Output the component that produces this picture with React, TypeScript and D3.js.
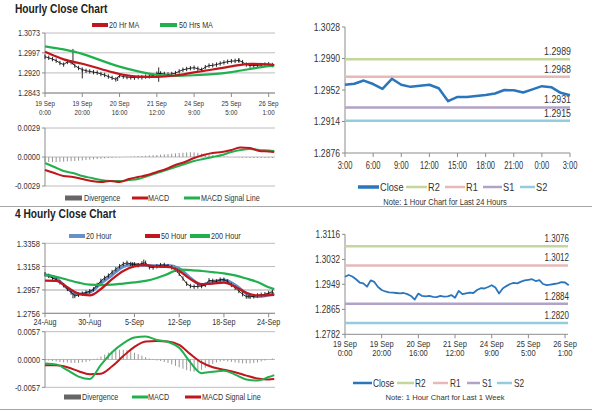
import * as d3 from 'd3';

const SANS = '"Liberation Sans", Arial, sans-serif';
const TEXT = '#333';
const AXIS = '#8c8c8c';
const GRID = '#bcbcbc';
const RED = '#c0161d';
const GREEN = '#22b04e';
const BLUE20 = '#6690c6';
const CLOSE_BLUE = '#2a76bc';
const BAR = '#8a8a8a';
const LEVEL_COLORS = ['#c3d69b', '#e6b9b8', '#b3a2c7', '#93cddd'];

// ---------- Hourly close chart (19 Sep - 26 Sep, every 2 hours) ----------
const hourlyClose = [
  1.2982, 1.2978, 1.2973, 1.2967, 1.2958, 1.2952, 1.2962, 1.2961, 1.2948, 1.2939,
  1.2933, 1.2928, 1.2926, 1.2923, 1.2921, 1.2916, 1.2912, 1.2906, 1.2901, 1.2895,
  1.2910, 1.2906, 1.2904, 1.2903, 1.2902, 1.2904, 1.2903, 1.2906, 1.2907, 1.2910,
  1.2917, 1.2918, 1.2916, 1.2914, 1.2916, 1.2919, 1.2926, 1.2932, 1.2935, 1.2938,
  1.2940, 1.2936, 1.2932, 1.2942, 1.2948, 1.2949, 1.2952, 1.2956, 1.2960, 1.2963,
  1.2965, 1.2966, 1.2968, 1.2961, 1.2952, 1.2948, 1.2948, 1.2949, 1.2950, 1.2952,
  1.2953, 1.2950,
];
// [hour, high, low]
const hourlySpikes = [
  [15, 1.3012, 1.2952], [20, 1.2932, 1.2899], [39, 1.2905, 1.2889], [61, 1.2941, 1.2886], [104, 1.2975, 1.2960],
];
const hourlyMaHours = [0, 10, 20, 30, 40, 50, 60, 70, 80, 90, 100, 110, 120, 123];
const hourlyMa20 = [1.3001, 1.2972, 1.2955, 1.2935, 1.2916, 1.2906, 1.2905, 1.2910, 1.2922, 1.2933, 1.2945, 1.2955, 1.2953, 1.2950];
const hourlyMa50 = [1.3022, 1.3010, 1.2993, 1.2968, 1.2944, 1.2926, 1.2913, 1.2909, 1.2911, 1.2915, 1.2923, 1.2935, 1.2946, 1.2948];
const hourlyYTicks = [1.2843, 1.2920, 1.2997, 1.3073];
const hourlyXTicks = [0, 20, 40, 60, 80, 100, 120];
const hourlyXLabels = [
  ['19 Sep', '0:00'], ['19 Sep', '20:00'], ['20 Sep', '16:00'], ['21 Sep', '12:00'],
  ['24 Sep', '9:00'], ['25 Sep', '5:00'], ['26 Sep', '1:00'],
];
const hourlyMacdHours = [0, 5, 10, 15, 20, 25, 30, 35, 40, 45, 50, 55, 60, 65, 70, 75, 80, 85, 90, 95, 100, 105, 110, 115, 120, 123];
const hourlyMacd = [-0.0013, -0.0016, -0.0019, -0.0020, -0.0022, -0.0024, -0.0025, -0.0024, -0.0025, -0.0022, -0.0020, -0.0018, -0.0015, -0.0012, -0.0008, -0.0005, -0.0001, 0.0002, 0.0004, 0.0005, 0.0007, 0.00095, 0.0009, 0.0006, 0.00055, 0.0005];
const hourlySignal = [-0.0006, -0.0010, -0.0014, -0.0016, -0.0019, -0.0021, -0.0023, -0.0024, -0.0024, -0.0023, -0.0022, -0.0019, -0.0016, -0.0013, -0.0010, -0.0007, -0.0004, -0.0002, 0.0000, 0.0002, 0.0005, 0.0007, 0.0008, 0.0007, 0.00065, 0.0006];
const hourlyDivergence = [
  -0.0005, -0.0005, -0.00052, -0.0005, -0.00048, -0.00046, -0.00044, -0.00042, -0.0004, -0.00037,
  -0.00034, -0.0003, -0.00027, -0.00024, -0.0002, -0.00017, -0.00014, -0.0001, -0.00008, -0.00005,
  -0.00003, -0.00002, 0.00002, 0.00004, 0.00006, 0.00008, 0.0001, 0.00012, 0.00015, 0.00018,
  0.0002, 0.00024, 0.00027, 0.0003, 0.00033, 0.00036, 0.0004, 0.00043, 0.00046, 0.00048,
  0.00047, 0.00042, 0.00035, 0.0003, 0.00025, 0.0002, 0.00015, 0.0001, 0.00006, 0.00003,
  0, -0.00003, -0.00005, -0.00007, -0.00008, -0.00009, -0.0001, -0.0001, -0.0001, -0.0001,
  -0.0001, -0.0001,
];
const hourlyMacdTicks = [-0.0029, 0, 0.0029];

// ---------- Last 24 hours ----------
const dayClose = [
  1.29583, 1.29596, 1.29634, 1.29592, 1.29533, 1.29655, 1.29583, 1.29558, 1.29571, 1.29583,
  1.29541, 1.29385, 1.29436, 1.29436, 1.29448, 1.29461, 1.29478, 1.2952, 1.29516, 1.2949,
  1.29528, 1.29566, 1.29554, 1.29486, 1.29457,
];
const levelNames = ['R2', 'R1', 'S1', 'S2'];
const dayLevels = [1.2989, 1.2968, 1.2931, 1.2915];
const dayYTicks = [1.2876, 1.2914, 1.2952, 1.2990, 1.3028];
const dayXTicks = [0, 3, 6, 9, 12, 15, 18, 21, 24];
const dayXLabels = ['3:00', '6:00', '9:00', '12:00', '15:00', '18:00', '21:00', '0:00', '3:00'];

// ---------- 4 hourly close chart (24 Aug - 24 Sep, every 2 bars) ----------
const fourClose = [
  1.3092, 1.3078, 1.3060, 1.3045, 1.3022, 1.2998, 1.2965, 1.2935, 1.2905, 1.2915,
  1.2925, 1.2935, 1.2945, 1.2962, 1.3000, 1.3035, 1.3060, 1.3080, 1.3110, 1.3135,
  1.3160, 1.3180, 1.3190, 1.3180, 1.3176, 1.3170, 1.3185, 1.3190, 1.3152, 1.3150,
  1.3160, 1.3170, 1.3172, 1.3162, 1.3150, 1.3130, 1.3095, 1.3055, 1.3010, 1.2990,
  1.2985, 1.2988, 1.2990, 1.3000, 1.3040, 1.3035, 1.3030, 1.3045, 1.3045, 1.3030,
  1.3000, 1.2975, 1.2948, 1.2920, 1.2900, 1.2897, 1.2902, 1.2910, 1.2915, 1.2920,
  1.2930, 1.2943,
];
const fourSpikes = [
  [15, 1.2930, 1.2885], [47, 1.3195, 1.3160], [53, 1.3218, 1.3172], [71, 1.3140, 1.3105], [109, 1.2915, 1.2883],
];
const fourMaIdx = [0, 6, 12, 18, 24, 30, 36, 42, 48, 54, 60, 66, 72, 78, 84, 90, 96, 102, 108, 114, 120, 123];
const fourMa20 = [1.3088, 1.3058, 1.2971, 1.2920, 1.2937, 1.3014, 1.3086, 1.3158, 1.3178, 1.3167, 1.3164, 1.3167, 1.3140, 1.3060, 1.3000, 1.3029, 1.3043, 1.3000, 1.2928, 1.2900, 1.2914, 1.2928];
const fourMa50 = [1.3037, 1.3035, 1.2980, 1.2925, 1.2910, 1.2965, 1.3050, 1.3120, 1.3160, 1.3170, 1.3157, 1.3155, 1.3120, 1.3050, 1.3008, 1.3012, 1.3020, 1.2985, 1.2932, 1.2910, 1.2912, 1.2915];
const fourMa200 = [1.3086, 1.3070, 1.3045, 1.3020, 1.3002, 1.2998, 1.3002, 1.3012, 1.3022, 1.3035, 1.3060, 1.3095, 1.3132, 1.3128, 1.3120, 1.3110, 1.3100, 1.3082, 1.3055, 1.3025, 1.2980, 1.2965];
const fourYTicks = [1.2756, 1.2957, 1.3158, 1.3358];
const fourXTicks = [0, 24, 48, 72, 96, 120];
const fourXLabels = ['24-Aug', '30-Aug', '5-Sep', '12-Sep', '18-Sep', '24-Sep'];
const fourMacd = [-0.0008, -0.0010, -0.0022, -0.0035, -0.0040, -0.0011, 0.0015, 0.0033, 0.0045, 0.0047, 0.0040, 0.0036, 0.0024, -0.0006, -0.0028, -0.0025, -0.0023, -0.0031, -0.0041, -0.0043, -0.0036, -0.0032];
const fourSignal = [-0.0012, -0.0012, -0.0016, -0.0024, -0.0030, -0.0029, -0.0014, 0.0007, 0.0026, 0.0037, 0.0038, 0.0037, 0.0030, 0.0011, -0.0006, -0.0016, -0.0021, -0.0026, -0.0033, -0.0039, -0.0041, -0.0040];
const fourDivergence = [
  -0.0002, -0.0002, -0.0003, -0.0004, -0.0005, -0.0006, -0.0006, -0.0007, -0.0007, -0.0007,
  -0.0006, -0.0005, -0.0003, -0.0001, 0.0002, 0.0006, 0.0010, 0.0014, 0.0017, 0.0019,
  0.0020, 0.0020, 0.0019, 0.0017, 0.0014, 0.0011, 0.0008, 0.0005, 0.0002, -0.0001,
  -0.0002, -0.0003, -0.0005, -0.0007, -0.0010, -0.0013, -0.0016, -0.0019, -0.0022, -0.0024,
  -0.0025, -0.0024, -0.0021, -0.0017, -0.0013, -0.0009, -0.0006, -0.0004, -0.0003, -0.0004,
  -0.0005, -0.0006, -0.0007, -0.0008, -0.0008, -0.0008, -0.0007, -0.0006, -0.0004, -0.0002,
  0.0000, 0.0002,
];
const fourMacdTicks = [-0.0057, 0, 0.0057];

// ---------- Last 1 week, hourly (every 2 hours) ----------
const weekClose = [
  1.2974, 1.2980, 1.2975, 1.2966, 1.2955, 1.2952, 1.2941, 1.2962, 1.2957, 1.2940,
  1.2930, 1.2925, 1.2922, 1.2921, 1.2920, 1.2919, 1.2920, 1.2916, 1.2910, 1.2898,
  1.2918, 1.2910, 1.2909, 1.2910, 1.2907, 1.2906, 1.2910, 1.2908, 1.2909, 1.2913,
  1.2904, 1.2927, 1.2916, 1.2919, 1.2921, 1.2920, 1.2930, 1.2936, 1.2935, 1.2940,
  1.2946, 1.2938, 1.2918, 1.2935, 1.2943, 1.2950, 1.2954, 1.2952, 1.2958, 1.2962,
  1.2964, 1.2966, 1.2960, 1.2963, 1.2950, 1.2946, 1.2948, 1.2950, 1.2952, 1.2956,
  1.2955, 1.2946,
];
const weekLevels = [1.3076, 1.3012, 1.2884, 1.2820];
const weekYTicks = [1.2782, 1.2865, 1.2949, 1.3032, 1.3116];

type Lin = d3.ScaleLinear<number, number>;

const linePath = (xs: number[], ys: number[], x: Lin, y: Lin, curve: d3.CurveFactory = d3.curveLinear) =>
  d3.line<number>().x((_, i) => x(xs[i])).y(d => y(d)).curve(curve)(ys) || '';

// condensed text: the source chart uses a narrow face, so squeeze horizontally
function T({ x, y, size, sx = 0.8, anchor = 'start', bold, mid, fill = TEXT, children }: {
  x: number; y: number; size: number; sx?: number; anchor?: 'start' | 'middle' | 'end';
  bold?: boolean; mid?: boolean; fill?: string; children: React.ReactNode;
}) {
  return (
    <text transform={`translate(${x},${y}) scale(${sx},1)`} textAnchor={anchor} fontSize={size}
      fontWeight={bold ? 'bold' : 'normal'} dy={mid ? '0.35em' : undefined} fill={fill}>{children}</text>
  );
}

function YAxis({ y, ticks, x, size, sx, grid, gridStyle }: {
  y: Lin; ticks: number[]; x: number; size: number; sx: number; grid?: [number, number];
  gridStyle?: (t: number) => { stroke: string; width: number };
}) {
  const lo = d3.min(ticks)!, hi = d3.max(ticks)!;
  return (
    <g>
      {grid && ticks.map(t => {
        const s = gridStyle ? gridStyle(t) : { stroke: GRID, width: 1 };
        return <line key={'g' + t} x1={grid[0]} x2={grid[1]} y1={y(t)} y2={y(t)} stroke={s.stroke} strokeWidth={s.width} />;
      })}
      <line x1={x} x2={x} y1={y(lo)} y2={y(hi)} stroke={AXIS} />
      {ticks.map(t => (
        <g key={t}>
          <line x1={x - 3} x2={x} y1={y(t)} y2={y(t)} stroke={AXIS} />
          <T x={x - 5} y={y(t)} mid anchor="end" size={size} sx={sx}>{t.toFixed(4)}</T>
        </g>
      ))}
    </g>
  );
}

function XAxis({ x, y0, ticks, labels, size, sx, offset, gap, range }: {
  x: Lin; y0: number; ticks: number[]; labels: string[][]; size: number; sx: number; offset: number; gap: number; range: [number, number];
}) {
  return (
    <g>
      <line x1={range[0]} x2={range[1]} y1={y0} y2={y0} stroke={AXIS} />
      {ticks.map((t, i) => (
        <g key={t + '-' + i}>
          <line x1={x(t)} x2={x(t)} y1={y0} y2={y0 + 4} stroke={AXIS} />
          {labels[i].map((s, j) => (
            <T key={j} x={x(t)} y={y0 + offset + j * gap} anchor="middle" size={size} sx={sx}>{s}</T>
          ))}
        </g>
      ))}
    </g>
  );
}

function PriceBars({ xs, ys, spikes, x, y }: { xs: number[]; ys: number[]; spikes: number[][]; x: Lin; y: Lin }) {
  return (
    <g>
      <path d={linePath(xs, ys, x, y)} fill="none" stroke="#111" strokeWidth={0.9} />
      {ys.map((v, i) => (
        <line key={i} x1={x(xs[i])} x2={x(xs[i])} y1={y(v) - 2.2} y2={y(v) + 2.2} stroke="#111" strokeWidth={0.9} />
      ))}
      {spikes.map(([h, hi, lo]) => (
        <line key={'s' + h} x1={x(h)} x2={x(h)} y1={y(hi)} y2={y(lo)} stroke="#111" strokeWidth={0.9} />
      ))}
    </g>
  );
}

function MacdPanel({ x, y, ticks, xs, macd, signal, barXs, bars, macdColor, signalColor }: {
  x: Lin; y: Lin; ticks: number[]; xs: number[]; macd: number[]; signal: number[];
  barXs: number[]; bars: number[]; macdColor: string; signalColor: string;
}) {
  const [x0, x1] = x.range();
  return (
    <g>
      <YAxis y={y} ticks={ticks} x={x0} size={9.5} sx={0.78} grid={[x0, x1]} />
      {bars.map((v, i) => (
        <line key={i} x1={x(barXs[i])} x2={x(barXs[i])} y1={y(0)} y2={y(v)} stroke={BAR} strokeWidth={0.9} />
      ))}
      <path d={linePath(xs, signal, x, y, d3.curveMonotoneX)} fill="none" stroke={signalColor} strokeWidth={2} />
      <path d={linePath(xs, macd, x, y, d3.curveMonotoneX)} fill="none" stroke={macdColor} strokeWidth={2} />
    </g>
  );
}

function MacdLegend({ y0, items }: { y0: number; items: { label: string; color: string; kind: 'bar' | 'line'; sx: number; tx: number }[] }) {
  return (
    <g>
      {items.map(it => (
        <g key={it.label}>
          {it.kind === 'bar'
            ? <rect x={it.sx} y={y0 - 2.5} width={17} height={5} fill="#666" />
            : <line x1={it.sx} x2={it.sx + 16} y1={y0} y2={y0} stroke={it.color} strokeWidth={3} />}
          <T x={it.tx} y={y0} mid size={9} sx={0.8}>{it.label}</T>
        </g>
      ))}
    </g>
  );
}

function LevelPanel({ x, y, yTicks, xs, close, levels, tickSize, tickSx, levelSize, levelSx, closeWidth }: {
  x: Lin; y: Lin; yTicks: number[]; xs: number[]; close: number[]; levels: number[];
  tickSize: number; tickSx: number; levelSize: number; levelSx: number; closeWidth: number;
}) {
  const [x0, x1] = x.range();
  return (
    <g>
      <YAxis y={y} ticks={yTicks} x={x0} size={tickSize} sx={tickSx} />
      {levels.map((v, i) => (
        <g key={levelNames[i]}>
          <line x1={x0} x2={x1} y1={y(v)} y2={y(v)} stroke={LEVEL_COLORS[i]} strokeWidth={2.5} />
          <T x={x1 + 1} y={y(v) - 4} anchor="end" size={levelSize} sx={levelSx}>{v.toFixed(4)}</T>
        </g>
      ))}
      <path d={linePath(xs, close, x, y)} fill="none" stroke={CLOSE_BLUE} strokeWidth={closeWidth} strokeLinejoin="round" />
    </g>
  );
}

function LevelLegend({ y0, size, sx, closeWidth, pos }: { y0: number; size: number; sx: number; closeWidth: number; pos: [number, number, number][] }) {
  const names = ['Close', ...levelNames];
  const colors = [CLOSE_BLUE, ...LEVEL_COLORS];
  return (
    <g>
      {names.map((n, i) => (
        <g key={n}>
          <line x1={pos[i][0]} x2={pos[i][1]} y1={y0} y2={y0} stroke={colors[i]} strokeWidth={i === 0 ? closeWidth : 2.5} />
          <T x={pos[i][2]} y={y0} mid size={size} sx={sx}>{n}</T>
        </g>
      ))}
    </g>
  );
}

export default function App() {
  // hourly
  const hx = d3.scaleLinear().domain([0, 123.4]).range([45, 275]);
  const hy = d3.scaleLinear().domain([1.2843, 1.3073]).range([93, 33]);
  const hm = d3.scaleLinear().domain([-0.0029, 0.0029]).range([186, 128]);
  const hourlyCloseHours = hourlyClose.map((_, i) => i * 2);
  const hourlyBarHours = hourlyDivergence.map((_, i) => i * 2);

  // last 24h
  const dx = d3.scaleLinear().domain([0, 24]).range([345, 570]);
  const dy = d3.scaleLinear().domain([1.2876, 1.3028]).range([153, 27]);
  const dayHours = dayClose.map((_, i) => i);

  // 4 hourly
  const fx = d3.scaleLinear().domain([0, 123.4]).range([45, 275]);
  const fy = d3.scaleLinear().domain([1.2756, 1.3358]).range([313.3, 243.3]);
  const fm = d3.scaleLinear().domain([-0.0057, 0.0057]).range([387.3, 331.7]);
  const fourCloseIdx = fourClose.map((_, i) => i * 2);
  const fourBarIdx = fourDivergence.map((_, i) => i * 2);

  // last week
  const wx = d3.scaleLinear().domain([0, 121.6]).range([345, 568]);
  const wy = d3.scaleLinear().domain([1.2782, 1.3116]).range([334.3, 234.3]);
  const weekHours = weekClose.map((_, i) => i * 2);

  return (
    <div style={{ position: 'absolute', left: 0, top: 0 }}>
      <svg width={600} height={413} viewBox="0 0 600 413" style={{ display: 'block', background: '#fff' }} fontFamily={SANS}>
        {/* separators */}
        <line x1={0} x2={592} y1={206.5} y2={206.5} stroke="#a6a6a6" />
        <line x1={0} x2={592} y1={409.5} y2={409.5} stroke="#a6a6a6" />

        {/* ---- Hourly Close Chart ---- */}
        <T x={15} y={13} size={12} sx={0.85} bold fill="#222">Hourly Close Chart</T>
        <line x1={92} x2={108} y1={25} y2={25} stroke={RED} strokeWidth={4} />
        <T x={109} y={25} mid size={9} sx={0.8}>20 Hr MA</T>
        <line x1={160} x2={177} y1={25} y2={25} stroke={GREEN} strokeWidth={4} />
        <T x={179} y={25} mid size={9} sx={0.8}>50 Hrs MA</T>
        <YAxis y={hy} ticks={hourlyYTicks} x={45} size={9.5} sx={0.76} grid={[45, 275]} />
        <XAxis x={hx} y0={93} ticks={hourlyXTicks} labels={hourlyXLabels} size={7.8} sx={0.8} offset={12.5} gap={9} range={[45, 275]} />
        <PriceBars xs={hourlyCloseHours} ys={hourlyClose} spikes={hourlySpikes} x={hx} y={hy} />
        <path d={linePath(hourlyMaHours, hourlyMa50, hx, hy, d3.curveMonotoneX)} fill="none" stroke={GREEN} strokeWidth={2.2} />
        <path d={linePath(hourlyMaHours, hourlyMa20, hx, hy, d3.curveMonotoneX)} fill="none" stroke={RED} strokeWidth={2.2} />
        <MacdPanel x={hx} y={hm} ticks={hourlyMacdTicks} xs={hourlyMacdHours} macd={hourlyMacd} signal={hourlySignal}
          barXs={hourlyBarHours} bars={hourlyDivergence} macdColor={RED} signalColor={GREEN} />
        <MacdLegend y0={198} items={[
          { label: 'Divergence', color: '#666', kind: 'bar', sx: 65, tx: 84 },
          { label: 'MACD', color: RED, kind: 'line', sx: 132, tx: 148 },
          { label: 'MACD Signal Line', color: GREEN, kind: 'line', sx: 184, tx: 201 },
        ]} />

        {/* ---- Last 24 hours ---- */}
        <LevelPanel x={dx} y={dy} yTicks={dayYTicks} xs={dayHours} close={dayClose} levels={dayLevels}
          tickSize={10.5} tickSx={0.82} levelSize={11} levelSx={0.8} closeWidth={2.5} />
        <XAxis x={dx} y0={153} ticks={dayXTicks} labels={dayXLabels.map(s => [s])} size={10.5} sx={0.72} offset={16} gap={0} range={[345, 570]} />
        <LevelLegend y0={187} size={11.5} sx={0.8} closeWidth={3.5} pos={[[358, 379, 380], [406, 427, 428], [445, 465, 466], [483, 502, 503], [520, 535, 536]]} />
        <T x={445} y={205} anchor="middle" size={9} sx={0.84}>Note: 1 Hour Chart for Last 24 Hours</T>

        {/* ---- 4 Hourly Close Chart ---- */}
        <T x={15} y={218} size={12} sx={0.85} bold fill="#222">4 Hourly Close Chart</T>
        <line x1={69} x2={85} y1={236} y2={236} stroke={BLUE20} strokeWidth={4} />
        <T x={86} y={236} mid size={9} sx={0.8}>20 Hour</T>
        <line x1={145} x2={160} y1={236} y2={236} stroke={RED} strokeWidth={4} />
        <T x={161} y={236} mid size={9} sx={0.8}>50 Hour</T>
        <line x1={190} x2={210} y1={236} y2={236} stroke={GREEN} strokeWidth={4} />
        <T x={211} y={236} mid size={9} sx={0.8}>200 Hour</T>
        <YAxis y={fy} ticks={fourYTicks} x={45} size={9.5} sx={0.8} grid={[45, 275]}
          gridStyle={t => (t === 1.2957 ? { stroke: '#d2d2d2', width: 2 } : { stroke: GRID, width: 1 })} />
        <XAxis x={fx} y0={313.3} ticks={fourXTicks} labels={fourXLabels.map(s => [s])} size={9} sx={0.8} offset={11.5} gap={0} range={[45, 275]} />
        <path d={linePath(fourMaIdx, fourMa20, fx, fy, d3.curveMonotoneX)} fill="none" stroke={BLUE20} strokeWidth={3} />
        <PriceBars xs={fourCloseIdx} ys={fourClose} spikes={fourSpikes} x={fx} y={fy} />
        <path d={linePath(fourMaIdx, fourMa200, fx, fy, d3.curveMonotoneX)} fill="none" stroke={GREEN} strokeWidth={2.2} />
        <path d={linePath(fourMaIdx, fourMa50, fx, fy, d3.curveMonotoneX)} fill="none" stroke={RED} strokeWidth={2.2} />
        <MacdPanel x={fx} y={fm} ticks={fourMacdTicks} xs={fourMaIdx} macd={fourMacd} signal={fourSignal}
          barXs={fourBarIdx} bars={fourDivergence} macdColor={GREEN} signalColor={RED} />
        <MacdLegend y0={397} items={[
          { label: 'Divergence', color: '#666', kind: 'bar', sx: 64, tx: 82 },
          { label: 'MACD', color: GREEN, kind: 'line', sx: 132, tx: 148 },
          { label: 'MACD Signal Line', color: RED, kind: 'line', sx: 185, tx: 202 },
        ]} />

        {/* ---- Last 1 week ---- */}
        <LevelPanel x={wx} y={wy} yTicks={weekYTicks} xs={weekHours} close={weekClose} levels={weekLevels}
          tickSize={10} tickSx={0.82} levelSize={10} levelSx={0.8} closeWidth={1.8} />
        <XAxis x={wx} y0={334.3} ticks={hourlyXTicks} labels={hourlyXLabels} size={8.2} sx={0.92} offset={12.5} gap={9.5} range={[345, 568]} />
        <LevelLegend y0={383} size={10} sx={0.83} closeWidth={2.5} pos={[[353, 372, 373], [397, 414, 415], [433, 448, 450], [467, 480, 482], [497, 512, 514]]} />
        <T x={445} y={400} anchor="middle" size={8} sx={0.95}>Note: 1 Hour Chart for  Last 1 Week</T>
      </svg>
    </div>
  );
}
